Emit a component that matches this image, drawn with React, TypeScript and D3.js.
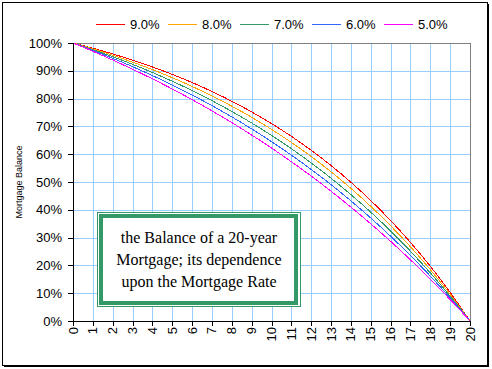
import React from "react";
import * as d3 from "d3";

const years = d3.range(0, 21);
const rateLabels = ["9.0%", "8.0%", "7.0%", "6.0%", "5.0%"];
const colors = ["#ff0000", "#ffa500", "#339966", "#3366ff", "#ff00ff"];

const bal9 = [1, 0.98127, 0.96079, 0.93838, 0.91388, 0.88707, 0.85775, 0.82568, 0.7906, 0.75223, 0.71026, 0.66435, 0.61414, 0.55922, 0.49914, 0.43343, 0.36155, 0.28293, 0.19694, 0.10288, 0];
const bal8 = [1, 0.97886, 0.95597, 0.93118, 0.90433, 0.87525, 0.84377, 0.80966, 0.77273, 0.73273, 0.68941, 0.64249, 0.59168, 0.53665, 0.47706, 0.41252, 0.34262, 0.26692, 0.18494, 0.09616, 0];
const bal7 = [1, 0.97621, 0.9507, 0.92335, 0.89402, 0.86257, 0.82884, 0.79268, 0.7539, 0.71233, 0.66774, 0.61993, 0.56866, 0.51369, 0.45475, 0.39154, 0.32377, 0.25109, 0.17317, 0.0896, 0];
const bal6 = [1, 0.9733, 0.94496, 0.91487, 0.88292, 0.849, 0.81299, 0.77475, 0.73416, 0.69107, 0.64531, 0.59674, 0.54517, 0.49042, 0.43229, 0.37058, 0.30506, 0.2355, 0.16165, 0.08324, 0];
const bal5 = [1, 0.97013, 0.93873, 0.90572, 0.87102, 0.83455, 0.79621, 0.75591, 0.71355, 0.66902, 0.62222, 0.57301, 0.5213, 0.46693, 0.40978, 0.34972, 0.28657, 0.2202, 0.15043, 0.07709, 0];
const series = [bal9, bal8, bal7, bal6, bal5];
const yTicks = [0, 0.1, 0.2, 0.3, 0.4, 0.5, 0.6, 0.7, 0.8, 0.9, 1];
const noteLines = ["the Balance of a 20-year", "Mortgage; its dependence", "upon the Mortgage Rate"];

const W = 492;
const H = 369;
const left = 73;
const right = 470;
const top = 43;
const bottom = 321;

export default function App() {
  const x = d3.scaleLinear().domain([0, 20]).range([left, right]);
  const y = d3.scaleLinear().domain([0, 1]).range([bottom, top]);
  const line = d3
    .line<number>()
    .x((_, i) => x(years[i]))
    .y((d) => y(d))
    .curve(d3.curveMonotoneX);
  const font = "'Liberation Sans', Arial, sans-serif";
  return (
    <div style={{ position: "absolute", left: 0, top: 0 }}>
      <svg width={W} height={H} style={{ display: "block" }}>
        <rect x={0} y={0} width={W} height={H} fill="#fff" />
        {/* frame */}
        <rect x={2.5} y={2.5} width={485} height={363} fill="none" stroke="#000" strokeWidth={1} />
        <line x1={488.5} y1={4} x2={488.5} y2={367} stroke="#000" />
        <line x1={4} y1={366.5} x2={489} y2={366.5} stroke="#000" />

        {/* grid */}
        {years.slice(1).map((t) => (
          <line key={"vx" + t} x1={Math.round(x(t)) + 0.5} x2={Math.round(x(t)) + 0.5} y1={top} y2={bottom} stroke="#99ccff" />
        ))}
        {yTicks.slice(1).map((v) => (
          <line key={"hy" + v} x1={left} x2={right} y1={Math.round(y(v)) + 0.5} y2={Math.round(y(v)) + 0.5} stroke="#99ccff" />
        ))}
        <line x1={left} x2={right} y1={top + 0.5} y2={top + 0.5} stroke="#808080" />
        <line x1={right + 0.5} x2={right + 0.5} y1={top} y2={bottom} stroke="#808080" />

        {/* series */}
        {series.map((s, k) => (
          <path key={"s" + k} d={line(s) || ""} fill="none" stroke={colors[k]} strokeWidth={1} shapeRendering="crispEdges" />
        ))}

        {/* axes */}
        <line x1={left + 0.5} x2={left + 0.5} y1={top} y2={bottom + 1} stroke="#000" />
        <line x1={left} x2={right + 1} y1={bottom + 0.5} y2={bottom + 0.5} stroke="#000" />
        {yTicks.map((v) => (
          <g key={"yt" + v}>
            <line x1={left - 5} x2={left} y1={Math.round(y(v)) + 0.5} y2={Math.round(y(v)) + 0.5} stroke="#000" />
            <text x={62} y={y(v) + 4.5} textAnchor="end" fontFamily={font} fontSize={13} fill="#000">
              {d3.format(".0%")(v)}
            </text>
          </g>
        ))}
        {years.map((t) => (
          <g key={"xt" + t}>
            <line x1={Math.round(x(t)) + 0.5} x2={Math.round(x(t)) + 0.5} y1={bottom} y2={bottom + 5} stroke="#000" />
            <text
              transform={`translate(${x(t) + 4.5},${327}) rotate(-90)`}
              textAnchor="end"
              fontFamily={font}
              fontSize={13}
              fill="#000"
            >
              {t}
            </text>
          </g>
        ))}
        <text transform={`translate(22,${(top + bottom) / 2}) rotate(-90)`} textAnchor="middle" fontFamily={font} fontSize={9} fill="#000">
          Mortgage Balance
        </text>

        {/* legend */}
        {rateLabels.map((lab, k) => (
          <g key={"lg" + k}>
            <line x1={96 + k * 72} x2={125 + k * 72} y1={24.5} y2={24.5} stroke={colors[k]} strokeWidth={1} />
            <text x={130 + k * 72} y={29} fontFamily={font} fontSize={13} fill="#000">
              {lab}
            </text>
          </g>
        ))}

        {/* note box */}
        <rect x={97.5} y={212.5} width={203} height={94} fill="#fff" stroke="#339966" strokeWidth={1} />
        <rect x={101} y={216} width={195} height={87} fill="none" stroke="#339966" strokeWidth={4} />
        {noteLines.map((l, i) => (
          <text key={"n" + i} x={199} y={243 + i * 22} textAnchor="middle" fontFamily="'Liberation Serif', 'Times New Roman', serif" fontSize={16} fill="#000">
            {l}
          </text>
        ))}
      </svg>
    </div>
  );
}
